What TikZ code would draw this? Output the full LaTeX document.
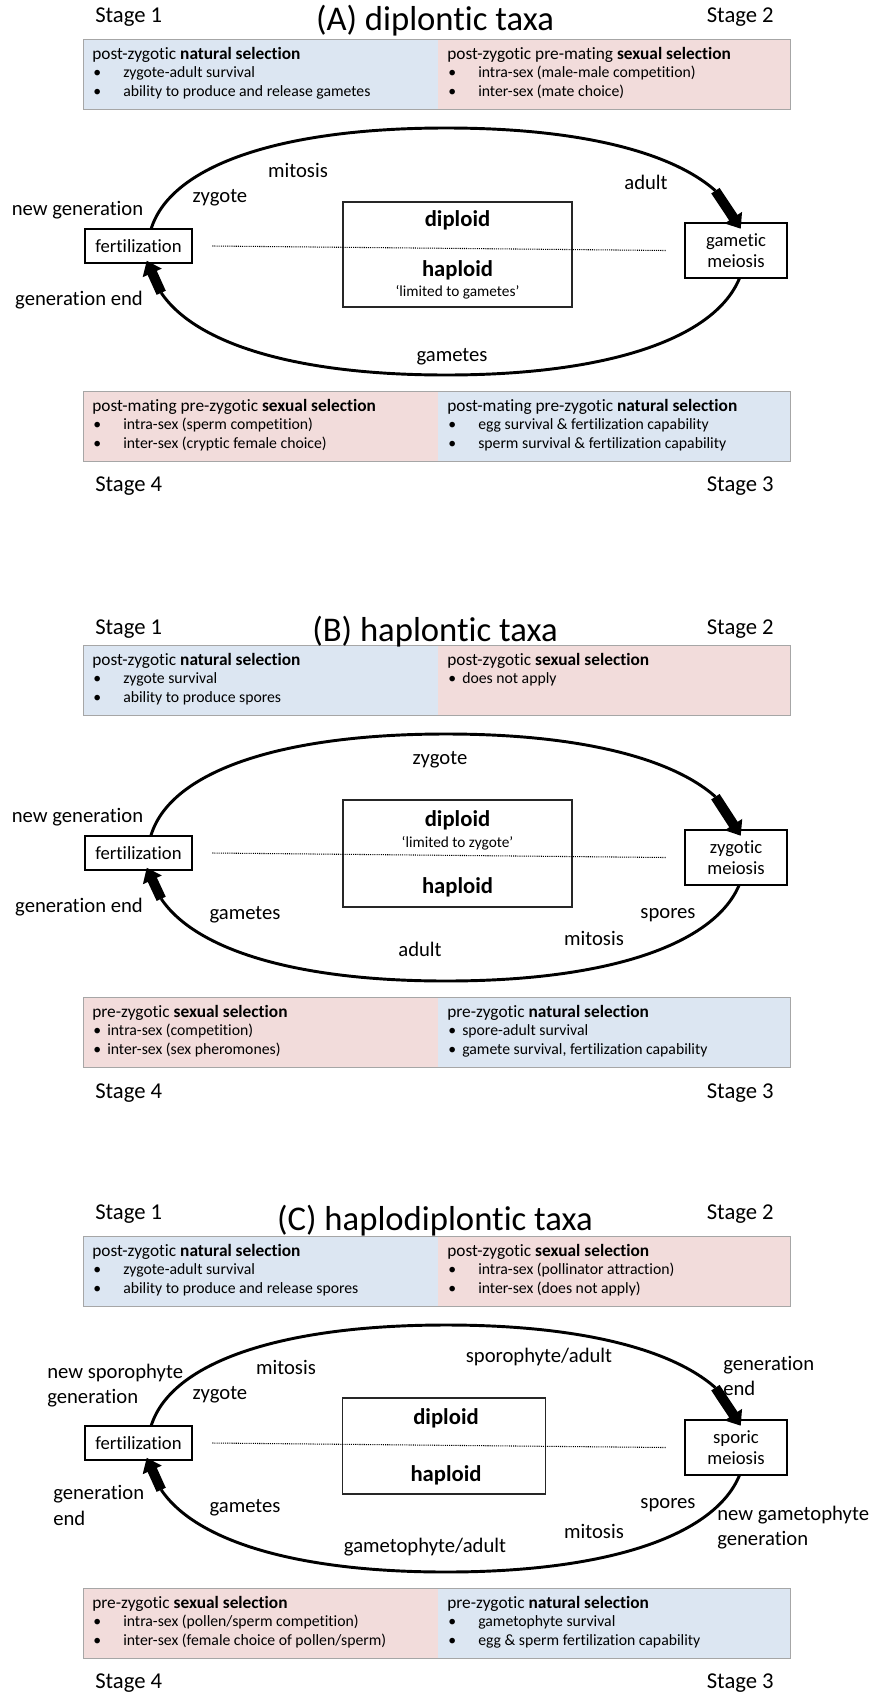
\documentclass[tikz,border=0pt]{standalone}
\usepackage{fontspec}
\setmainfont{Carlito}[Ligatures=NoCommon]
\usetikzlibrary{arrows.meta,calc}
\definecolor{selblue}{HTML}{DCE6F2}
\definecolor{selpink}{HTML}{F2DCDB}
\definecolor{boxgray}{HTML}{A6A6A6}
\tikzset{
  stage/.style={font=\fontsize{17}{20}\selectfont, inner sep=0pt},
  ttl/.style={font=\fontsize{26}{30}\selectfont, inner sep=0pt},
  lbl/.style={font=\fontsize{15.5}{19}\selectfont, inner sep=0pt},
  lbltwo/.style={font=\fontsize{15.5}{19}\selectfont, inner sep=0pt, align=left, anchor=west},
  evt/.style={draw, line width=1.9pt, fill=white, font=\fontsize{14}{16.25}\selectfont, align=center, inner sep=1pt},
  ploid/.style={draw=black!85, line width=0.8pt, inner sep=0pt},
  plt/.style={font=\fontsize{17}{20}\selectfont\bfseries, inner sep=0pt},
  lim/.style={font=\fontsize{11.5}{14}\selectfont, inner sep=0pt},
  cyc/.style={line width=2.2pt},
  bigarrow/.style={line width=7.5pt, -{Triangle[length=10pt,width=15pt]}},
  dotline/.style={line width=0.8pt, dash pattern=on 0.8pt off 0.8pt},
  half/.style={anchor=north west, inner sep=0pt, minimum height=52.5pt},
  hd/.style={anchor=base west, font=\fontsize{13}{15}\selectfont, inner sep=0pt},
  bt/.style={anchor=base west, font=\fontsize{11.8}{14}\selectfont, inner sep=0pt},
  outline/.style={draw=boxgray, line width=0.6pt},
}
% name, x, y, width(px), colour, bullet column width, heading, line 1, line 2
\newcommand\selbox[9]{%
  \node[half, fill=#5, minimum width=#4*0.75pt] (#1) at (#2,#3) {};
  \node[hd] (#1h) at ($(#1.north west)+(9,-20)$) {#7};
  \node[bt] (#1a) at ($(#1.north west)+(10,-38.5)$) {\makebox[#6][l]{\textbullet}#8};
  \if\relax\detokenize{#9}\relax\else
  \node[bt] (#1b) at ($(#1.north west)+(10,-57)$) {\makebox[#6][l]{\textbullet}#9};
  \fi
}
% life-cycle loop (drawn before the boxes so that they cover it)
\newcommand\lifeloop[1]{%
  \draw[cyc] (148,-211) .. controls (148,-135.4) and (261.2,-89) .. (446,-89)
             .. controls (575.5,-89) and (670.2,-111.75) .. (715.4,-151.7) coordinate (#1-ta);
  \draw[cyc] (745,-211) .. controls (745,-288.5) and (631,-336) .. (446,-336)
             .. controls (298,-336) and (196.1,-305.6) .. (161.2,-253.8) coordinate (#1-tb);
}
\newcommand\looparrows[1]{%
  \draw[bigarrow] (#1-ta) -- ($(#1-mei.north west)+(57,-7)$);
  \draw[bigarrow] (#1-tb) -- ($(#1-fert.south west)+(63,3.5)$);
  \draw[dotline] ($(#1-fert.east)+(19,0)$) -- ($(#1-mei.west)+(-18,0)$);
}
\begin{document}
\begin{tikzpicture}[x=0.75pt,y=0.75pt]
\fill[white] (0,0) rectangle (870,-1692);
\useasboundingbox (0,0) rectangle (870,-1692);

% ================= (A) =================
\begin{scope}[shift={(0,-39)}]
  \node[stage, anchor=west] (a-s1) at (95,22) {Stage 1};
  \node[stage, anchor=east] (a-s2) at (774,22) {Stage 2};
  \selbox{a-tl}{83}{0}{355}{selblue}{22.5pt}{post-zygotic \textbf{natural selection}}{zygote-adult survival}{ability to produce and release gametes}
  \selbox{a-tr}{438}{0}{352}{selpink}{22.5pt}{post-zygotic pre-mating \textbf{sexual selection}}{intra-sex (male-male competition)}{inter-sex (mate choice)}
  \draw[outline] (a-tl.north west) rectangle (a-tr.south east);
  \node[ttl] (a-title) at (435,18) {(A) diplontic taxa};
  \lifeloop{a}
  \node[evt, minimum width=80.25pt, minimum height=25.5pt] (a-fert) at (138.5,-207) {fertilization};
  \node[evt, minimum width=76.5pt, minimum height=41.25pt] (a-mei) at (736,-211.5) {gametic\\meiosis};
  \node[ploid, minimum width=171.75pt, minimum height=78.75pt] (a-ploid) at (457.5,-215.5) {};
  \node[plt] (a-dip) at (457.5,-181) {diploid};
  \node[plt] (a-hap) at (457.5,-231) {haploid};
  \node[lim] (a-lim) at (457.5,-253) {‘limited to gametes’};
  \looparrows{a}
  \node[lbl] (a-mit) at (298,-131) {mitosis};
  \node[lbl] (a-adu) at (646,-143) {adult};
  \node[lbl] (a-zyg) at (220,-159) {zygote};
  \node[lbl] (a-new) at (77.5,-171) {new generation};
  \node[lbl] (a-end) at (79,-261) {generation end};
  \node[lbl] (a-gam) at (452,-318) {gametes};
  \selbox{a-bl}{83}{-352}{355}{selpink}{22.5pt}{post-mating pre-zygotic \textbf{sexual selection}}{intra-sex (sperm competition)}{inter-sex (cryptic female choice)}
  \selbox{a-br}{438}{-352}{352}{selblue}{22.5pt}{post-mating pre-zygotic \textbf{natural selection}}{egg survival \& fertilization capability}{sperm survival \& fertilization capability}
  \draw[outline] (a-bl.north west) rectangle (a-br.south east);
  \node[stage, anchor=west] (a-s4) at (95,-447) {Stage 4};
  \node[stage, anchor=east] (a-s3) at (774,-447) {Stage 3};
\end{scope}

% ================= (B) =================
\begin{scope}[shift={(0,-645)}]
  \node[stage, anchor=west] (b-s1) at (95,16) {Stage 1};
  \node[stage, anchor=east] (b-s2) at (774,16) {Stage 2};
  \selbox{b-tl}{83}{0}{355}{selblue}{22.5pt}{post-zygotic \textbf{natural selection}}{zygote survival}{ability to produce spores}
  \selbox{b-tr}{438}{0}{352}{selpink}{10.5pt}{post-zygotic \textbf{sexual selection}}{does not apply}{}
  \draw[outline] (b-tl.north west) rectangle (b-tr.south east);
  \node[ttl] (b-title) at (435,13) {(B) haplontic taxa};
  \lifeloop{b}
  \node[evt, minimum width=80.25pt, minimum height=25.5pt] (b-fert) at (138.5,-208) {fertilization};
  \node[evt, minimum width=76.5pt, minimum height=41.25pt] (b-mei) at (736,-212.5) {zygotic\\meiosis};
  \node[ploid, minimum width=171.75pt, minimum height=80.25pt] (b-ploid) at (457.5,-208.5) {};
  \node[plt] (b-dip) at (457.5,-175) {diploid};
  \node[lim] (b-lim) at (457.5,-198) {‘limited to zygote’};
  \node[plt] (b-hap) at (457.5,-242) {haploid};
  \looparrows{b}
  \node[lbl] (b-zyg) at (440,-115) {zygote};
  \node[lbl] (b-new) at (77.5,-172) {new generation};
  \node[lbl] (b-end) at (79,-262) {generation end};
  \node[lbl] (b-spo) at (668,-270) {spores};
  \node[lbl] (b-gam) at (245,-270) {gametes};
  \node[lbl] (b-mit) at (594,-293) {mitosis};
  \node[lbl] (b-adu) at (420,-304) {adult};
  \selbox{b-bl}{83}{-352}{355}{selpink}{10.5pt}{pre-zygotic \textbf{sexual selection}}{intra-sex (competition)}{inter-sex (sex pheromones)}
  \selbox{b-br}{438}{-352}{352}{selblue}{10.5pt}{pre-zygotic \textbf{natural selection}}{spore-adult survival}{gamete survival, fertilization capability}
  \draw[outline] (b-bl.north west) rectangle (b-br.south east);
  \node[stage, anchor=west] (b-s4) at (95,-448) {Stage 4};
  \node[stage, anchor=east] (b-s3) at (774,-448) {Stage 3};
\end{scope}

% ================= (C) =================
\begin{scope}[shift={(0,-1236)}]
  \node[stage, anchor=west] (c-s1) at (95,22) {Stage 1};
  \node[stage, anchor=east] (c-s2) at (774,22) {Stage 2};
  \selbox{c-tl}{83}{0}{355}{selblue}{22.5pt}{post-zygotic \textbf{natural selection}}{zygote-adult survival}{ability to produce and release spores}
  \selbox{c-tr}{438}{0}{352}{selpink}{22.5pt}{post-zygotic \textbf{sexual selection}}{intra-sex (pollinator attraction)}{inter-sex (does not apply)}
  \draw[outline] (c-tl.north west) rectangle (c-tr.south east);
  \node[ttl] (c-title) at (435,15) {(C) haplodiplontic taxa};
  \lifeloop{c}
  \node[evt, minimum width=80.25pt, minimum height=25.5pt] (c-fert) at (138.5,-207) {fertilization};
  \node[evt, minimum width=76.5pt, minimum height=41.25pt] (c-mei) at (736,-211.5) {sporic\\meiosis};
  \node[ploid, minimum width=152.25pt, minimum height=72pt] (c-ploid) at (444,-210) {};
  \node[plt] (c-dip) at (446,-182) {diploid};
  \node[plt] (c-hap) at (446,-239) {haploid};
  \looparrows{c}
  \node[lbl] (c-mit) at (286,-131) {mitosis};
  \node[lbl] (c-spa) at (539,-121) {sporophyte/adult};
  \node[lbltwo] (c-gen1) at (723,-140) {generation\\end};
  \node[lbltwo] (c-nsp) at (47,-149.5) {new sporophyte\\generation};
  \node[lbl] (c-zyg) at (220,-159) {zygote};
  \node[lbltwo] (c-gen2) at (53,-269.5) {generation\\end};
  \node[lbl] (c-gam) at (245,-272) {gametes};
  \node[lbl] (c-spo) at (668,-269) {spores};
  \node[lbltwo] (c-ngp) at (717,-291.5) {new gametophyte\\generation};
  \node[lbl] (c-mit2) at (594,-295) {mitosis};
  \node[lbl] (c-gpa) at (425,-311) {gametophyte/adult};
  \selbox{c-bl}{83}{-352}{355}{selpink}{22.5pt}{pre-zygotic \textbf{sexual selection}}{intra-sex (pollen/sperm competition)}{inter-sex (female choice of pollen/sperm)}
  \selbox{c-br}{438}{-352}{352}{selblue}{22.5pt}{pre-zygotic \textbf{natural selection}}{gametophyte survival}{egg \& sperm fertilization capability}
  \draw[outline] (c-bl.north west) rectangle (c-br.south east);
  \node[stage, anchor=west] (c-s4) at (95,-447) {Stage 4};
  \node[stage, anchor=east] (c-s3) at (774,-447) {Stage 3};
\end{scope}
\end{tikzpicture}
\end{document}
